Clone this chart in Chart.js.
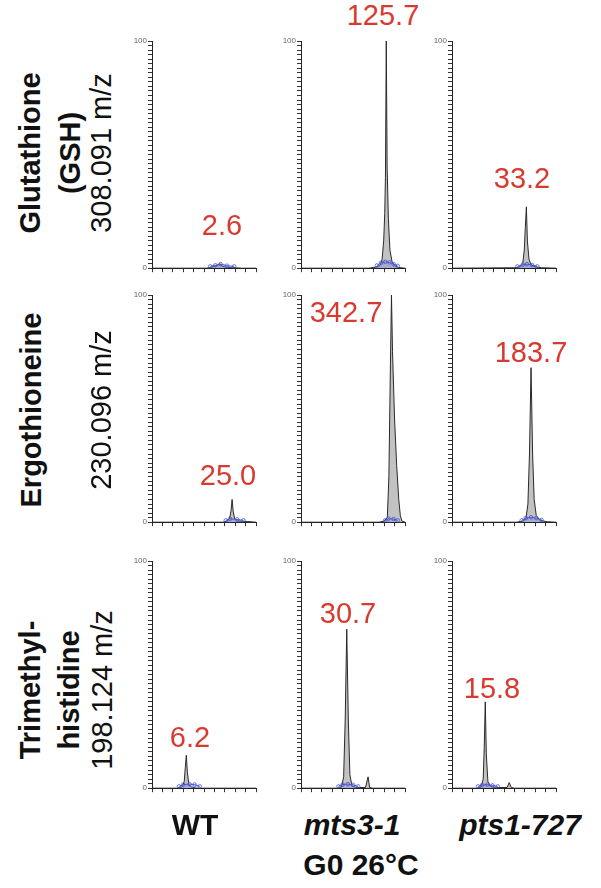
<!DOCTYPE html>
<html><head><meta charset="utf-8">
<script src="https://cdn.jsdelivr.net/npm/chart.js@4.4.0/dist/chart.umd.min.js"></script>
<style>
html,body{margin:0;padding:0;background:#fff;width:601px;height:888px;overflow:hidden;font-family:'Liberation Sans',Arial,Helvetica,sans-serif;}
#stage{position:relative;width:601px;height:888px;}
canvas{position:absolute;}
.t{position:absolute;white-space:nowrap;line-height:1;transform:translate(-50%,-50%);}
.rot{transform:translate(-50%,-50%) rotate(-90deg);}
.num{color:#d93a2f;font-size:29px;}
.lab{font-size:29px;color:#111;}
.col{font-size:30px;}
.b{font-weight:bold}
.i{font-style:italic}
</style></head>
<body><div id="stage"></div>
<script>
// ---------- DATA ----------
const strains = ["WT", "mts3-1", "pts1-727"];
const strainItalic = [false, true, true];
const conditionLabel = "G0 26\u00B0C";
const rowLabels = [
  ["Glutathione", "(GSH)", "308.091 m/z"],
  ["Ergothioneine", "230.096 m/z"],
  ["Trimethyl-", "histidine", "198.124 m/z"]
];
const rowLabelBold = [[true, true, false], [true, false], [true, true, false]];
const peakAreas = [
  [2.6, 125.7, 33.2],
  [25.0, 342.7, 183.7],
  [6.2, 30.7, 15.8]
];
const yTickLabels = [0, 100];

// chromatogram traces (retention time, relative intensity %)
const gshWT_t  = [0, 5.2, 5.6, 6.0, 6.3, 6.5, 6.7, 7.0, 7.4, 8.0, 8.6, 10];
const gshWT_i  = [0, 0, 0.3, 0.8, 1.2, 2.0, 1.0, 0.6, 0.3, 0.2, 0, 0];
const gshMts_t = [0, 6.5, 7.2, 7.6, 7.8, 7.95, 8.05, 8.12, 8.2, 8.28, 8.4, 8.55, 8.75, 9.0, 9.4, 10];
const gshMts_i = [0, 0, 0.5, 1.2, 4, 12, 24, 40, 100, 45, 22, 8, 3, 1, 0.3, 0];
const gshPts_t = [0, 6.0, 6.5, 6.8, 6.95, 7.05, 7.15, 7.25, 7.4, 7.6, 8.0, 8.6, 10];
const gshPts_i = [0, 0.2, 0.5, 2, 8, 18, 27, 12, 4, 1.5, 0.6, 0.2, 0];

const ergWT_t  = [0, 6.8, 7.2, 7.45, 7.6, 7.7, 7.8, 7.95, 8.2, 8.6, 9.2, 10];
const ergWT_i  = [0, 0, 0.5, 1.5, 5, 10, 5, 1.5, 0.6, 0.4, 0.3, 0];
const ergMts_t = [0, 7.5, 8.0, 8.3, 8.45, 8.6, 8.7, 8.8, 9.0, 9.2, 9.4, 9.55, 9.7, 10];
const ergMts_i = [0, 0, 0.5, 2, 20, 70, 100, 75, 45, 25, 10, 3, 0.5, 0];
const ergPts_t = [0, 6.2, 6.8, 7.1, 7.3, 7.45, 7.6, 7.75, 7.9, 8.1, 8.4, 8.8, 9.2, 10];
const ergPts_i = [0, 0, 0.5, 1.5, 8, 30, 68, 30, 10, 3, 1.2, 0.5, 0.2, 0];

const tmhWT_t  = [0, 2.4, 2.9, 3.1, 3.2, 3.3, 3.4, 3.55, 3.8, 4.3, 10];
const tmhWT_i  = [0, 0, 0.5, 3, 9, 14.5, 7, 1.5, 0.5, 0, 0];
const tmhMts_t = [0, 3.5, 3.9, 4.1, 4.25, 4.4, 4.55, 4.7, 4.9, 5.3, 6.2, 6.45, 6.6, 6.9, 10];
const tmhMts_i = [0, 0, 0.5, 5, 30, 70, 30, 6, 1, 0.3, 0.3, 5, 0.3, 0, 0];
const tmhPts_t = [0, 2.4, 2.8, 3.0, 3.1, 3.2, 3.3, 3.45, 3.7, 4.2, 5.3, 5.5, 5.7, 6.0, 10];
const tmhPts_i = [0, 0, 0.5, 4, 18, 38, 15, 3, 0.8, 0.3, 0.3, 2.5, 0.3, 0, 0];

// integration baseline markers (blue)
const gshWT_bt  = [5.6, 6.1, 6.6, 7.2, 7.9];
const gshWT_bi  = [0.8, 1.3, 1.8, 1.1, 0.8];
const gshMts_bt = [7.3, 7.7, 8.1, 8.5, 8.9, 9.3];
const gshMts_bi = [1.2, 2.4, 2.8, 2.6, 1.8, 1.0];
const gshPts_bt = [6.3, 6.8, 7.2, 7.7, 8.2];
const gshPts_bi = [0.8, 1.5, 1.8, 1.4, 0.8];
const ergWT_bt  = [7.1, 7.5, 8.2, 8.8];
const ergWT_bi  = [0.8, 1.5, 1.2, 0.8];
const ergMts_bt = [8.1, 8.4, 8.9, 9.3];
const ergMts_bi = [0.8, 1.6, 1.4, 0.8];
const ergPts_bt = [6.7, 7.1, 7.6, 8.1, 8.6];
const ergPts_bi = [0.8, 1.8, 2.2, 1.8, 1.0];
const tmhWT_bt  = [2.6, 3.0, 3.6, 4.1, 4.6];
const tmhWT_bi  = [0.8, 1.6, 1.8, 1.6, 0.8];
const tmhMts_bt = [3.6, 4.0, 4.5, 5.0, 5.5];
const tmhMts_bi = [0.8, 1.6, 1.8, 1.5, 0.8];
const tmhPts_bt = [2.5, 2.9, 3.4, 3.9, 4.4];
const tmhPts_bi = [0.8, 1.4, 1.6, 1.2, 0.8];

const traces = [
  [[gshWT_t, gshWT_i, gshWT_bt, gshWT_bi], [gshMts_t, gshMts_i, gshMts_bt, gshMts_bi], [gshPts_t, gshPts_i, gshPts_bt, gshPts_bi]],
  [[ergWT_t, ergWT_i, ergWT_bt, ergWT_bi], [ergMts_t, ergMts_i, ergMts_bt, ergMts_bi], [ergPts_t, ergPts_i, ergPts_bt, ergPts_bi]],
  [[tmhWT_t, tmhWT_i, tmhWT_bt, tmhWT_bi], [tmhMts_t, tmhMts_i, tmhMts_bt, tmhMts_bi], [tmhPts_t, tmhPts_i, tmhPts_bt, tmhPts_bi]]
];

// ---------- LAYOUT ----------
const colAxisX = [152, 301, 452];
const rowTopY = [41, 295, 561];
const PLOT_W = 104, PLOT_H = 228, YAX_W = 24, PAD_T = 6, PAD_R = 6, XAX_H = 5;
const numPos = [
  [[222, 225], [383, 15], [522, 178]],
  [[228, 475], [346, 312], [531, 352]],
  [[190, 737], [348, 613], [492, 688]]
];
const rowCenterY = [153, 410, 690];
const rowLineX = [[30, 70, 101], [31, 101], [30, 69, 102]];
const strainPos = [[195, 825], [352, 825], [520, 825]];
const conditionPos = [361, 865];

Chart.defaults.font.family = "'Liberation Sans', Arial, sans-serif";
const stage = document.getElementById('stage');

function addText(txt, x, y, cls) {
  const d = document.createElement('div');
  d.className = 't ' + cls;
  d.textContent = txt;
  d.style.left = x + 'px';
  d.style.top = y + 'px';
  stage.appendChild(d);
}

function panel(left, top, tr) {
  const [t, inten, bt, bi] = tr;
  const cv = document.createElement('canvas');
  cv.width = YAX_W + PLOT_W + PAD_R;
  cv.height = PAD_T + PLOT_H + XAX_H;
  cv.style.left = (left - YAX_W) + 'px';
  cv.style.top = (top - PAD_T) + 'px';
  stage.appendChild(cv);
  new Chart(cv, {
    type: 'line',
    data: {
      datasets: [
        { data: bt.map((x, k) => ({ x, y: bi[k] })), order: 0,
          borderColor: '#4a58d0', borderWidth: 1, backgroundColor: 'rgba(120,130,230,0.35)', fill: 'origin',
          pointRadius: 1.8, pointBackgroundColor: 'rgba(255,255,255,0)', pointBorderColor: '#4a58d0', pointBorderWidth: 0.8, tension: 0 },
        { data: t.map((x, k) => ({ x, y: inten[k] })), order: 1,
          borderColor: '#2a2a2a', borderWidth: 1, backgroundColor: '#c2c2c2', fill: 'origin', pointRadius: 0, tension: 0 }
      ]
    },
    options: {
      responsive: false, animation: false, devicePixelRatio: 1,
      layout: { padding: { top: PAD_T, right: PAD_R, left: 0, bottom: 0 } },
      plugins: { legend: { display: false }, tooltip: { enabled: false } },
      scales: {
        x: { type: 'linear', min: 0, max: 10,
             ticks: { stepSize: 1, autoSkip: false, callback: () => '' },
             grid: { drawOnChartArea: false, tickLength: 4, color: '#333', lineWidth: 1 },
             border: { color: '#222' },
             afterFit: s => { s.height = XAX_H; } },
        y: { min: 0, max: 100,
             ticks: { stepSize: 2, autoSkip: false, padding: 1, color: '#666', font: { size: 8 },
                      callback: v => yTickLabels.includes(v) ? String(v) : '' },
             grid: { drawOnChartArea: false, tickLength: 4, color: '#333', lineWidth: 1 },
             border: { color: '#222' },
             afterFit: s => { s.width = YAX_W; } }
      }
    }
  });
}

for (let r = 0; r < 3; r++) {
  for (let c = 0; c < 3; c++) {
    panel(colAxisX[c], rowTopY[r], traces[r][c]);
    addText(peakAreas[r][c].toFixed(1), numPos[r][c][0], numPos[r][c][1], 'num');
  }
  rowLabels[r].forEach((line, k) => {
    addText(line, rowLineX[r][k], rowCenterY[r], 'lab rot' + (rowLabelBold[r][k] ? ' b' : ''));
  });
}
strains.forEach((s, c) => addText(s, strainPos[c][0], strainPos[c][1], 'lab col b' + (strainItalic[c] ? ' i' : '')));
addText(conditionLabel, conditionPos[0], conditionPos[1], 'lab col b');
</script>
</body></html>
